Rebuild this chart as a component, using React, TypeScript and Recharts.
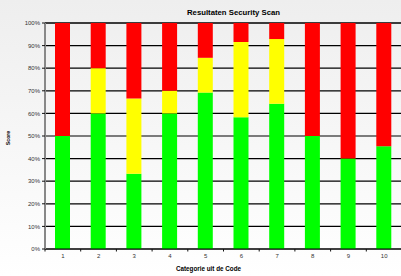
import React from 'react';
import { BarChart, Bar, XAxis, YAxis, CartesianGrid, Label } from 'recharts';

const categories = ['1', '2', '3', '4', '5', '6', '7', '8', '9', '10'];
const green = [50, 60, 33.3, 60, 69.2, 58.3, 64.3, 50, 40, 45.5];
const yellow = [0, 20, 33.3, 10, 15.4, 33.3, 28.6, 0, 0, 0];
const red = [50, 20, 33.4, 30, 15.4, 8.4, 7.1, 50, 60, 54.5];
const yTicks = [0, 10, 20, 30, 40, 50, 60, 70, 80, 90, 100];

const data = categories.map((c, i) => ({ cat: c, green: green[i], yellow: yellow[i], red: red[i] }));

const FONT = '"Liberation Sans", Arial, sans-serif';

const XTick = (props: any) => {
  const { x, y, payload } = props;
  const off = payload && typeof payload.offset === 'number' && payload.offset > 0 ? payload.offset : 17.85;
  const axisY = y - 5;
  return (
    <g>
      <line x1={x - off} x2={x - off} y1={axisY} y2={axisY + 2.5} stroke="#111" strokeWidth={1} />
      <text x={x} y={y} dy="0.71em" textAnchor="middle" fontSize={6} fill="#333" fontFamily={FONT}>
        {payload.value}
      </text>
    </g>
  );
};

export default function App() {
  return (
    <div
      style={{
        position: 'absolute',
        left: 0,
        top: 0,
        width: 401,
        height: 276,
        overflow: 'hidden',
        background: 'linear-gradient(#eeeeee, #ffffff)',
        fontFamily: FONT,
      }}
    >
      <div
        style={{
          position: 'absolute',
          top: 8,
          left: 0,
          width: 467,
          textAlign: 'center',
          fontSize: 7.75,
          lineHeight: '9px',
          fontWeight: 'bold',
          color: '#000',
        }}
      >
        Resultaten Security Scan
      </div>
      <BarChart
        width={410}
        height={276}
        data={data}
        margin={{ top: 23, right: 8, bottom: 7, left: 0 }}
        barSize={15}
        style={{ position: 'absolute', left: 0, top: 0 }}
      >
        <CartesianGrid vertical={false} stroke="#000" strokeWidth={1.2} />
        <XAxis
          dataKey="cat"
          height={20}
          tickLine={false}
          tickSize={3}
          tickMargin={2}
          axisLine={{ stroke: '#000', strokeWidth: 1.2 }}
          tick={<XTick />}
        >
          <Label
            content={(props: any) => {
              const vb = props.viewBox || { x: 45, y: 249, width: 357, height: 20 };
              return (
                <text
                  x={vb.x + vb.width / 2 - 15}
                  y={vb.y + 22}
                  textAnchor="middle"
                  fontSize={6.3}
                  fontWeight="bold"
                  fontFamily={FONT}
                  fill="#000"
                >
                  Categorie uit de Code
                </text>
              );
            }}
          />
        </XAxis>
        <YAxis
          width={45}
          domain={[0, 100]}
          ticks={yTicks}
          interval={0}
          tickFormatter={(v: number) => `${v}%`}
          tickSize={3}
          tickMargin={2}
          tickLine={{ stroke: '#111' }}
          axisLine={{ stroke: '#888', strokeWidth: 2 }}
          tick={{ fontSize: 6, fill: '#333', fontFamily: FONT }}
        >
          <Label
            content={(props: any) => {
              const vb = props.viewBox || { x: 0, y: 23, width: 45, height: 226 };
              const cx = vb.x + 8;
              const cy = vb.y + vb.height / 2 + 2;
              return (
                <text
                  x={cx}
                  y={cy}
                  transform={`rotate(-90 ${cx} ${cy})`}
                  textAnchor="middle"
                  dominantBaseline="central"
                  fontSize={5.2}
                  fontWeight="bold"
                  fontFamily={FONT}
                  fill="#000"
                >
                  Score
                </text>
              );
            }}
          />
        </YAxis>
        <Bar dataKey="green" stackId="a" fill="#00ff00" isAnimationActive={false} />
        <Bar dataKey="yellow" stackId="a" fill="#ffff00" isAnimationActive={false} />
        <Bar dataKey="red" stackId="a" fill="#ff0000" isAnimationActive={false} />
      </BarChart>
    </div>
  );
}
